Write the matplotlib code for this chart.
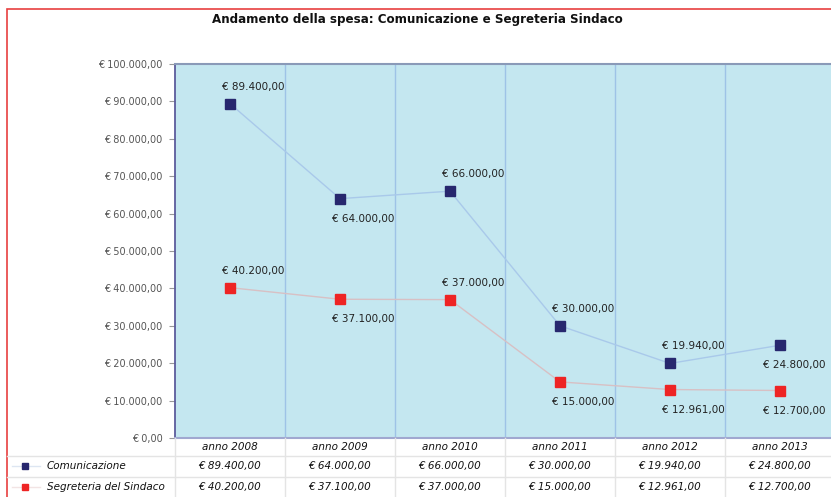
import matplotlib
matplotlib.use('Agg')
import matplotlib.pyplot as plt
from matplotlib.patches import Rectangle
from matplotlib.lines import Line2D
from matplotlib.transforms import blended_transform_factory

# ---- data ----
years = ['anno 2008', 'anno 2009', 'anno 2010', 'anno 2011', 'anno 2012', 'anno 2013']
series_names = ['Comunicazione', 'Segreteria del Sindaco']
comunicazione = [89400, 64000, 66000, 30000, 19940, 24800]
segreteria = [40200, 37100, 37000, 15000, 12961, 12700]
comm_label_pos = ['above', 'below', 'above', 'above', 'above', 'below']
segr_label_pos = ['above', 'below', 'above', 'below', 'below', 'below']
y_ticks = list(range(0, 100001, 10000))
title = 'Andamento della spesa: Comunicazione e Segreteria Sindaco'


def eur(v):
    s = '{:,.2f}'.format(v).replace(',', 'X').replace('.', ',').replace('X', '.')
    return '€ ' + s


W, H = 831, 497
fig = plt.figure(figsize=(W / 100, H / 100), dpi=100)
fig.patch.set_facecolor('white')

# red border
fig.patches.append(Rectangle((7 / W, -0.1), 1.2, (1 - 9 / H) + 0.1, transform=fig.transFigure,
                             fill=False, edgecolor='#e84040', linewidth=1.2))

ax = fig.add_axes([175 / W, (H - 438) / H, 660 / W, 374 / H])
ax.set_facecolor('#c4e7f0')
ax.set_xlim(-0.5, len(years) - 0.5)
ax.set_ylim(0, 100000)

# vertical grid lines at category boundaries
for i in range(1, len(years)):
    ax.axvline(i - 0.5, color='#9ec3e6', linewidth=1.0, zorder=1)

ax.spines['right'].set_visible(False)
ax.spines['left'].set_color('#5c5c9c')
ax.spines['left'].set_linewidth(1.3)
ax.spines['top'].set_color('#8a9ab8')
ax.spines['top'].set_linewidth(1.5)
ax.spines['bottom'].set_color('#a0a8d0')
ax.spines['bottom'].set_linewidth(1.5)

ax.set_yticks(y_ticks)
ax.set_yticklabels([eur(v) for v in y_ticks])
ax.tick_params(axis='y', length=4, color='#999999', labelsize=7, labelcolor='#555555', pad=5)
ax.set_xticks(range(len(years)))
ax.set_xticklabels(years, fontstyle='italic', fontsize=7.5, color='#111111')
ax.tick_params(axis='x', length=0, pad=3)

x = list(range(len(years)))
ax.plot(x, comunicazione, color='#a9c9ea', linewidth=1.0, zorder=2)
ax.plot(x, comunicazione, linestyle='none', marker='s', markersize=7, color='#27276e', zorder=3)
ax.plot(x, segreteria, color='#d8c0c4', linewidth=1.0, zorder=2)
ax.plot(x, segreteria, linestyle='none', marker='s', markersize=7, color='#ee2424', zorder=3)

n = len(years)
for vals, poss in [(comunicazione, comm_label_pos), (segreteria, segr_label_pos)]:
    for i, (v, p) in enumerate(zip(vals, poss)):
        dy = 17 if p == 'above' else -20
        dx = 23 if i < n - 1 else 14
        ax.annotate(eur(v), (i, v), xytext=(dx, dy), textcoords='offset pixels',
                    ha='center', va='center', fontsize=7.5, color='#222222', zorder=4)

fig.text(417 / W, 1 - 20 / H, title, fontsize=8.6, fontweight='bold', color='#111111',
         ha='center', va='center')

# ---- data table beneath the plot ----
grid_c = '#e4e4e4'
for yy in [456, 477]:
    fig.add_artist(Line2D([7 / W, 1], [1 - yy / H, 1 - yy / H], transform=fig.transFigure,
                          color=grid_c, linewidth=1.0))
bt = blended_transform_factory(ax.transData, fig.transFigure)
for i in range(len(years)):
    fig.add_artist(Line2D([i - 0.5, i - 0.5], [0, 1 - 438 / H], transform=bt,
                          color=grid_c, linewidth=1.0))

row_y = [466, 487]
row_vals = [comunicazione, segreteria]
marker_cols = ['#27276e', '#ee2424']
line_cols = ['#dde6f2', '#f2e4e4']
for name, yy, vals, mc, lc in zip(series_names, row_y, row_vals, marker_cols, line_cols):
    fy = 1 - yy / H
    fig.add_artist(Line2D([12 / W, 40 / W], [fy, fy], transform=fig.transFigure,
                          color=lc, linewidth=1.0))
    fig.add_artist(Line2D([25 / W], [fy], transform=fig.transFigure, linestyle='none',
                          marker='s', markersize=5, color=mc))
    fig.text(47 / W, fy, name, fontsize=7.5, fontstyle='italic', color='#111111',
             ha='left', va='center')
    for i, v in enumerate(vals):
        fig.text(i, fy, eur(v), transform=bt, fontsize=7.5, fontstyle='italic',
                 color='#111111', ha='center', va='center')

fig.savefig('out.png', dpi=100)
